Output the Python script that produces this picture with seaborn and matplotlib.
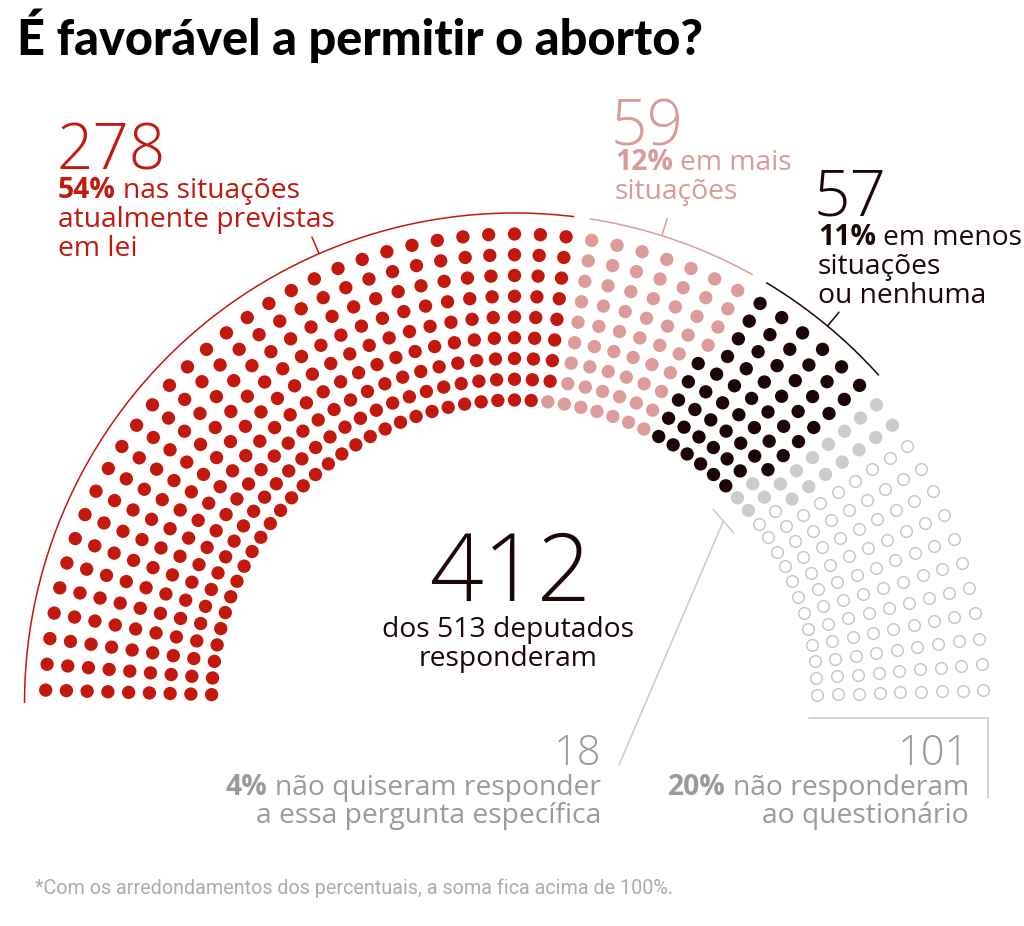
import matplotlib
matplotlib.use("Agg")
import matplotlib.pyplot as plt
import seaborn as sns
import numpy as np
import pandas as pd

# ---------------- data ----------------
group_keys = ["atual", "mais", "menos", "nao_quis", "nao_resp"]
group_counts = [278, 59, 57, 18, 101]
group_pcts = ["54%", "12%", "11%", "4%", "20%"]
group_texts = [
    ["nas situações", "atualmente previstas", "em lei"],
    ["em mais", "situações"],
    ["em menos", "situações", "ou nenhuma"],
    ["não quiseram responder", "a essa pergunta específica"],
    ["não responderam", "ao questionário"],
]
total_seats = 513
answered = 412
title = "É favorável a permitir o aborto?"
footnote = "*Com os arredondamentos dos percentuais, a soma fica acima de 100%."

# ---------------- style ----------------
dot_colors = {"atual": "#c2180e", "mais": "#dc9c9c", "menos": "#1c0505",
              "nao_quis": "#cbcbcb", "nao_resp": "#ffffff"}
text_colors = ["#c2180e", "#d99a9a", "#1c0707", "#9a9a9a", "#9a9a9a"]
hollow_edge = "#c6c6c6"
line_grey = "#c8c8c8"

sns.set_theme(style="white")
plt.rcParams["font.family"] = ["Open Sans", "DejaVu Sans"]

N_ROWS = 9
N_COLS = total_seats // N_ROWS
CX, CY = 514.5, 703.0
R_IN, ROW_GAP = 303.0, 20.75
R_ARC = 490.0

# ---------------- seat layout (parliament, column-major, outer->inner) ----------------
seat_group = np.repeat(group_keys, group_counts)
recs = []
k = 0
for j in range(N_COLS):
    th = np.pi - (j + 0.5) * np.pi / N_COLS
    for i in range(N_ROWS - 1, -1, -1):
        r = R_IN + i * ROW_GAP
        recs.append({"x": CX + r * np.cos(th), "y": CY - r * np.sin(th),
                     "group": seat_group[k]})
        k += 1
seats = pd.DataFrame(recs)

fig = plt.figure(figsize=(10.24, 9.26), dpi=100)
ax = fig.add_axes([0, 0, 1, 1])

filled = seats[seats.group != "nao_resp"]
hollow = seats[seats.group == "nao_resp"]
sns.scatterplot(data=filled, x="x", y="y", hue="group",
                palette={g: dot_colors[g] for g in group_keys[:-1]},
                s=92, linewidth=0, legend=False, ax=ax)
sns.scatterplot(data=hollow, x="x", y="y", s=70, color="white",
                edgecolor=hollow_edge, linewidth=1.05, legend=False, ax=ax)

# ---------------- arcs above groups ----------------
step = 180.0 / N_COLS
cum = np.cumsum(group_counts)
col_bounds = [0] + [int(np.ceil(c / N_ROWS)) for c in cum]
GAP = 0.9
tick_angles = [113.5, 72.5, 50.3]
for gi in range(3):
    a0 = 180.0 - col_bounds[gi] * step - (GAP if gi > 0 else 0)
    a1 = 180.0 - col_bounds[gi + 1] * step + GAP
    th = np.radians(np.linspace(a0, a1, 200))
    ax.plot(CX + R_ARC * np.cos(th), CY - R_ARC * np.sin(th),
            color=dot_colors[group_keys[gi]], lw=1.1, solid_capstyle="butt")
    ta = np.radians(tick_angles[gi])
    ax.plot([CX + R_ARC * np.cos(ta), CX + (R_ARC + 18) * np.cos(ta)],
            [CY - R_ARC * np.sin(ta), CY - (R_ARC + 18) * np.sin(ta)],
            color=dot_colors[group_keys[gi]], lw=1.1)

# grey 18: tangent bar + leader
ta = np.radians(41.05)
rb = 277
mx, my = CX + rb * np.cos(ta), CY - rb * np.sin(ta)
tx, ty = np.sin(ta), np.cos(ta)
ax.plot([mx - 15.6 * tx, mx + 15.6 * tx], [my - 15.6 * ty, my + 15.6 * ty],
        color=line_grey, lw=1.1)
ax.plot([mx, 619], [my, 765], color=line_grey, lw=1.1)

# 101 bracket
ax.plot([809, 988, 988], [718, 718, 798], color=line_grey, lw=1.1)

ax.set_xlim(0, 1024)
ax.set_ylim(926, 0)
ax.axis("off")

# ---------------- text ----------------
BODY = 20.3
SP = 5.3


def mixed(x, y, bold, rest, color, ha="left"):
    if ha == "left":
        t1 = ax.text(x, y, bold, fontsize=BODY, fontweight="bold", color=color,
                     ha="left", va="baseline")
        ax.annotate(rest, xy=(1, y), xycoords=(t1, "data"), xytext=(SP, 0),
                    textcoords="offset points", fontsize=BODY, color=color,
                    ha="left", va="baseline")
    else:
        t2 = ax.text(x, y, rest, fontsize=BODY, color=color, ha="right",
                     va="baseline")
        ax.annotate(bold, xy=(0, y), xycoords=(t2, "data"), xytext=(-SP, 0),
                    textcoords="offset points", fontsize=BODY,
                    fontweight="bold", color=color, ha="right", va="baseline")


def plain(x, y, s, color, ha="left"):
    ax.text(x, y, s, fontsize=BODY, color=color, ha=ha, va="baseline")


def bignum(x, y, s, color, size, ha="left"):
    ax.text(x, y, s, fontsize=size, color=color, ha=ha, va="baseline",
            fontweight="light")


ax.text(17, 55, title, fontsize=35, fontweight="black", color="#000000",
        family=["Lato", "DejaVu Sans"], ha="left", va="baseline")

# 278
bignum(56, 170, str(group_counts[0]), text_colors[0], 46)
mixed(58, 198, group_pcts[0], group_texts[0][0], text_colors[0])
plain(58, 227, group_texts[0][1], text_colors[0])
plain(58, 256, group_texts[0][2], text_colors[0])

# 59
bignum(611, 145, str(group_counts[1]), text_colors[1], 46)
mixed(615, 170, group_pcts[1], group_texts[1][0], text_colors[1])
plain(615, 199, group_texts[1][1], text_colors[1])

# 57
bignum(814, 216, str(group_counts[2]), text_colors[2], 46)
mixed(818, 245, group_pcts[2], group_texts[2][0], text_colors[2])
plain(818, 274, group_texts[2][1], text_colors[2])
plain(818, 303, group_texts[2][2], text_colors[2])

# 412
bignum(510, 601, str(answered), "#1c0707", 68, ha="center")
ax.text(508, 637, f"dos {total_seats} deputados", fontsize=BODY, color="#1c0707",
        ha="center", va="baseline")
ax.text(508, 666, "responderam", fontsize=BODY, color="#1c0707",
        ha="center", va="baseline")

# 18
bignum(601, 765, str(group_counts[3]), text_colors[3], 30, ha="right")
mixed(601, 795, group_pcts[3], group_texts[3][0], text_colors[3], ha="right")
plain(601, 823, group_texts[3][1], text_colors[3], ha="right")

# 101
bignum(969, 765, str(group_counts[4]), text_colors[4], 30, ha="right")
mixed(969, 795, group_pcts[4], group_texts[4][0], text_colors[4], ha="right")
plain(969, 823, group_texts[4][1], text_colors[4], ha="right")

ax.text(35, 894, footnote, fontsize=14.2, color="#acacac", ha="left",
        va="baseline", family=["Roboto", "DejaVu Sans"], fontweight="normal")

fig.savefig("out.png", dpi=100, facecolor="white")
